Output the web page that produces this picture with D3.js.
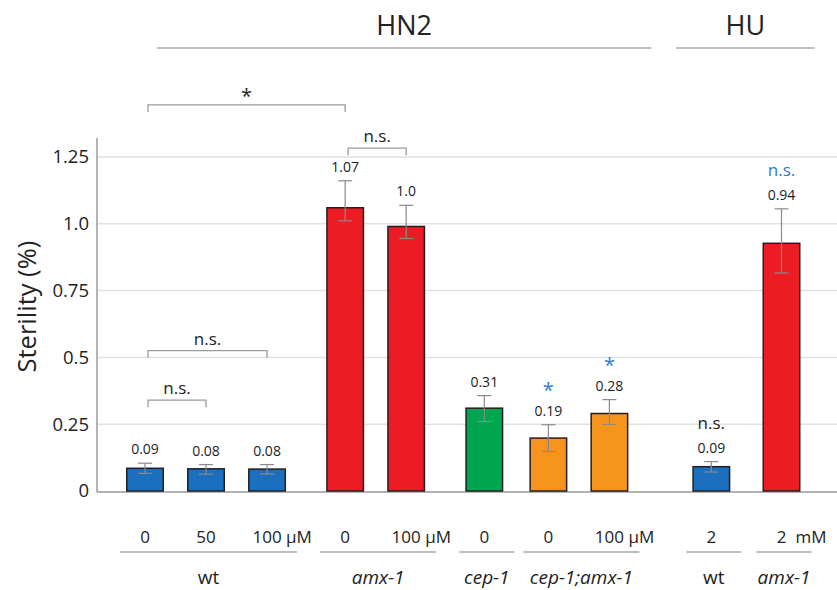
<!DOCTYPE html>
<html>
<head>
<meta charset="utf-8">
<script src="https://cdn.jsdelivr.net/npm/d3@7"></script>
<style>
  body { margin: 0; background: #fff; }
  text { font-family: "Open Sans", "Noto Sans", sans-serif; fill: #222; }
</style>
</head>
<body>
<div id="chart"></div>
<script>
// Data
var genotypes = ["wt", "wt", "wt", "amx-1", "amx-1", "cep-1", "cep-1;amx-1", "cep-1;amx-1", "wt", "amx-1"];
var doses = ["0", "50", "100", "0", "100", "0", "0", "100", "2", "2"];
var units = ["", "", "\u00b5M", "", "\u00b5M", "", "", "\u00b5M", "", "mM"];
var values = [0.085, 0.083, 0.082, 1.06, 0.99, 0.31, 0.198, 0.29, 0.091, 0.927];
var errHigh = [0.104, 0.099, 0.099, 1.161, 1.069, 0.357, 0.248, 0.342, 0.110, 1.056];
var errLow = [0.066, 0.063, 0.064, 1.011, 0.945, 0.260, 0.148, 0.249, 0.071, 0.816];
var valueLabels = ["0.09", "0.08", "0.08", "1.07", "1.0", "0.31", "0.19", "0.28", "0.09", "0.94"];
var sigMarks = ["", "", "", "", "", "", "*", "*", "n.s.", "n.s."];
var sigBlue = [false, false, false, false, false, false, true, true, false, true];

var groupNames = ["wt", "amx-1", "cep-1", "cep-1;amx-1", "wt", "amx-1"];
var groupOf = [0, 0, 0, 1, 1, 2, 3, 3, 4, 5];
var treatments = ["HN2", "HU"];
var treatmentBars = [[0, 7], [8, 9]];

// pairwise comparisons: bar indices, bracket height (data units), label
var brackets = [
  {a: 0, b: 1, y: 0.34, label: "n.s."},
  {a: 0, b: 2, y: 0.525, label: "n.s."},
  {a: 0, b: 3, y: 1.445, label: "*"},
  {a: 3, b: 4, y: 1.283, label: "n.s."}
];

var genotypeColor = {
  "wt": "#1c6fbe",
  "amx-1": "#ec1c24",
  "cep-1": "#00a64f",
  "cep-1;amx-1": "#f7941d"
};
var yTicks = [0, 0.25, 0.5, 0.75, 1.0, 1.25];
var yTickLabels = ["0", "0.25", "0.5", "0.75", "1.0", "1.25"];

// Layout
var svgWidth = 837;
var svgHeight = 590;
var groupGaps = [0.28, 0.28, 0.05, 0.67, 0.15];
var barWidth = 36.5;
var axisX = 97;
var blue = "#2a7ad0";

var svg = d3.select("#chart")
  .append("svg")
  .attr("width", svgWidth)
  .attr("height", svgHeight);

// slot position of each bar: index plus extra spacing between genotype groups
var slots = values.map(function(v, i) {
  var extra = d3.sum(groupGaps.slice(0, groupOf[i]));
  return i + extra;
});

var xScale = d3.scaleLinear()
  .domain([0, d3.max(slots)])
  .range([145, 781.5]);

var yScale = d3.scaleLinear()
  .domain([0, 1.25])
  .range([491, 157]);

// gridlines
svg.append("g")
  .selectAll("line")
  .data(yTicks.slice(1))
  .enter()
  .append("line")
  .attr("x1", axisX)
  .attr("x2", svgWidth)
  .attr("y1", d => yScale(d))
  .attr("y2", d => yScale(d))
  .attr("stroke", "#dde2e5")
  .attr("stroke-width", 1.5);

// y axis
var leftAxis = d3.axisLeft(yScale)
  .tickValues(yTicks)
  .tickFormat((d, i) => yTickLabels[i])
  .tickSize(0)
  .tickPadding(8);

var yAxisG = svg.append("g")
  .attr("transform", `translate(${axisX}, 0)`)
  .call(leftAxis);
yAxisG.select(".domain").remove();
yAxisG.selectAll("text")
  .attr("font-size", 18.5)
  .attr("font-family", "Open Sans, sans-serif")
  .attr("fill", "#222");

svg.append("line")
  .attr("x1", axisX).attr("x2", axisX)
  .attr("y1", 138).attr("y2", yScale(0) + 1)
  .attr("stroke", "#8c8c8c")
  .attr("stroke-width", 1.3);

svg.append("line")
  .attr("x1", axisX).attr("x2", svgWidth)
  .attr("y1", yScale(0) + 1).attr("y2", yScale(0) + 1)
  .attr("stroke", "#9a9a9a")
  .attr("stroke-width", 1.3);

svg.append("text")
  .attr("transform", `translate(36, ${yScale(0.69)}) rotate(-90)`)
  .attr("text-anchor", "middle")
  .attr("font-size", 25.5)
  .text("Sterility (%)");

// bars
var bars = values.map(function(v, i) {
  return {i: i, value: v, hi: errHigh[i], lo: errLow[i], x: xScale(slots[i]), geno: genotypes[i]};
});

svg.append("g")
  .selectAll("rect")
  .data(bars)
  .enter()
  .append("rect")
  .attr("x", d => d.x - barWidth / 2)
  .attr("y", d => yScale(d.value))
  .attr("width", barWidth)
  .attr("height", d => yScale(0) - yScale(d.value))
  .attr("fill", d => genotypeColor[d.geno])
  .attr("stroke", "#231f20")
  .attr("stroke-width", 1.5);

// error bars
var errG = svg.append("g")
  .attr("stroke", "#8a8a8a")
  .attr("stroke-width", 1.2);
bars.forEach(function(d) {
  errG.append("line")
    .attr("x1", d.x).attr("x2", d.x)
    .attr("y1", yScale(d.hi)).attr("y2", yScale(d.lo));
  [d.hi, d.lo].forEach(function(e) {
    errG.append("line")
      .attr("x1", d.x - 7).attr("x2", d.x + 7)
      .attr("y1", yScale(e)).attr("y2", yScale(e));
  });
});

// value labels and significance marks above bars
svg.append("g")
  .selectAll("text")
  .data(bars)
  .enter()
  .append("text")
  .attr("x", d => d.x)
  .attr("y", d => yScale(d.hi) - 9)
  .attr("text-anchor", "middle")
  .attr("font-size", 14)
  .text(d => valueLabels[d.i]);

svg.append("g")
  .selectAll("text")
  .data(bars.filter(d => sigMarks[d.i] !== ""))
  .enter()
  .append("text")
  .attr("x", d => d.x)
  .attr("y", d => yScale(d.hi) - 9 - (sigMarks[d.i] === "*" ? 19 : 24))
  .attr("text-anchor", "middle")
  .attr("font-size", d => sigMarks[d.i] === "*" ? 20 : 17)
  .style("fill", d => sigBlue[d.i] ? blue : "#222")
  .text(d => sigMarks[d.i]);

// comparison brackets
var brG = svg.append("g");
brackets.forEach(function(b) {
  var x1 = bars[b.a].x + 3;
  var x2 = bars[b.b].x;
  var y = yScale(b.y);
  brG.append("path")
    .attr("d", `M${x1},${y + 7}V${y}H${x2}V${y + 7}`)
    .attr("fill", "none")
    .attr("stroke", "#9a9a9a")
    .attr("stroke-width", 1.3);
  brG.append("text")
    .attr("x", (x1 + x2) / 2)
    .attr("y", b.label === "*" ? y - 2 : y - 6)
    .attr("text-anchor", "middle")
    .attr("font-size", b.label === "*" ? 20 : 17)
    .text(b.label);
});

// dose labels
var doseY = 543;
svg.append("g")
  .selectAll("text")
  .data(bars)
  .enter()
  .append("text")
  .attr("x", d => d.x)
  .attr("y", doseY)
  .attr("text-anchor", "middle")
  .attr("font-size", 17)
  .text(d => doses[d.i]);

svg.append("g")
  .selectAll("text")
  .data(bars.filter(d => units[d.i] !== ""))
  .enter()
  .append("text")
  .attr("x", d => d.x + (doses[d.i].length > 1 ? 19 : 14))
  .attr("y", doseY)
  .attr("font-size", 17)
  .text(d => units[d.i]);

// genotype groups: underline and name
groupNames.forEach(function(name, g) {
  var members = bars.filter(d => groupOf[d.i] === g);
  var left = d3.min(members, d => d.x) - 25;
  var right = d3.max(members, d => d.x) + 30;
  svg.append("line")
    .attr("x1", left).attr("x2", right)
    .attr("y1", 552).attr("y2", 552)
    .attr("stroke", "#a8a8a8")
    .attr("stroke-width", 1.3);
  svg.append("text")
    .attr("x", (left + right) / 2)
    .attr("y", 584)
    .attr("text-anchor", "middle")
    .attr("font-size", 19)
    .attr("font-style", name === "wt" ? "normal" : "italic")
    .text(name);
});

// treatment headers
var headerPad = [[12, 42], [-35, 33]];
treatments.forEach(function(t, k) {
  var left = bars[treatmentBars[k][0]].x + headerPad[k][0];
  var right = bars[treatmentBars[k][1]].x + headerPad[k][1];
  svg.append("line")
    .attr("x1", left).attr("x2", right)
    .attr("y1", 48).attr("y2", 48)
    .attr("stroke", "#a8a8a8")
    .attr("stroke-width", 1.3);
  svg.append("text")
    .attr("x", (left + right) / 2)
    .attr("y", 35)
    .attr("text-anchor", "middle")
    .attr("font-size", 27)
    .text(t);
});
</script>
</body>
</html>
